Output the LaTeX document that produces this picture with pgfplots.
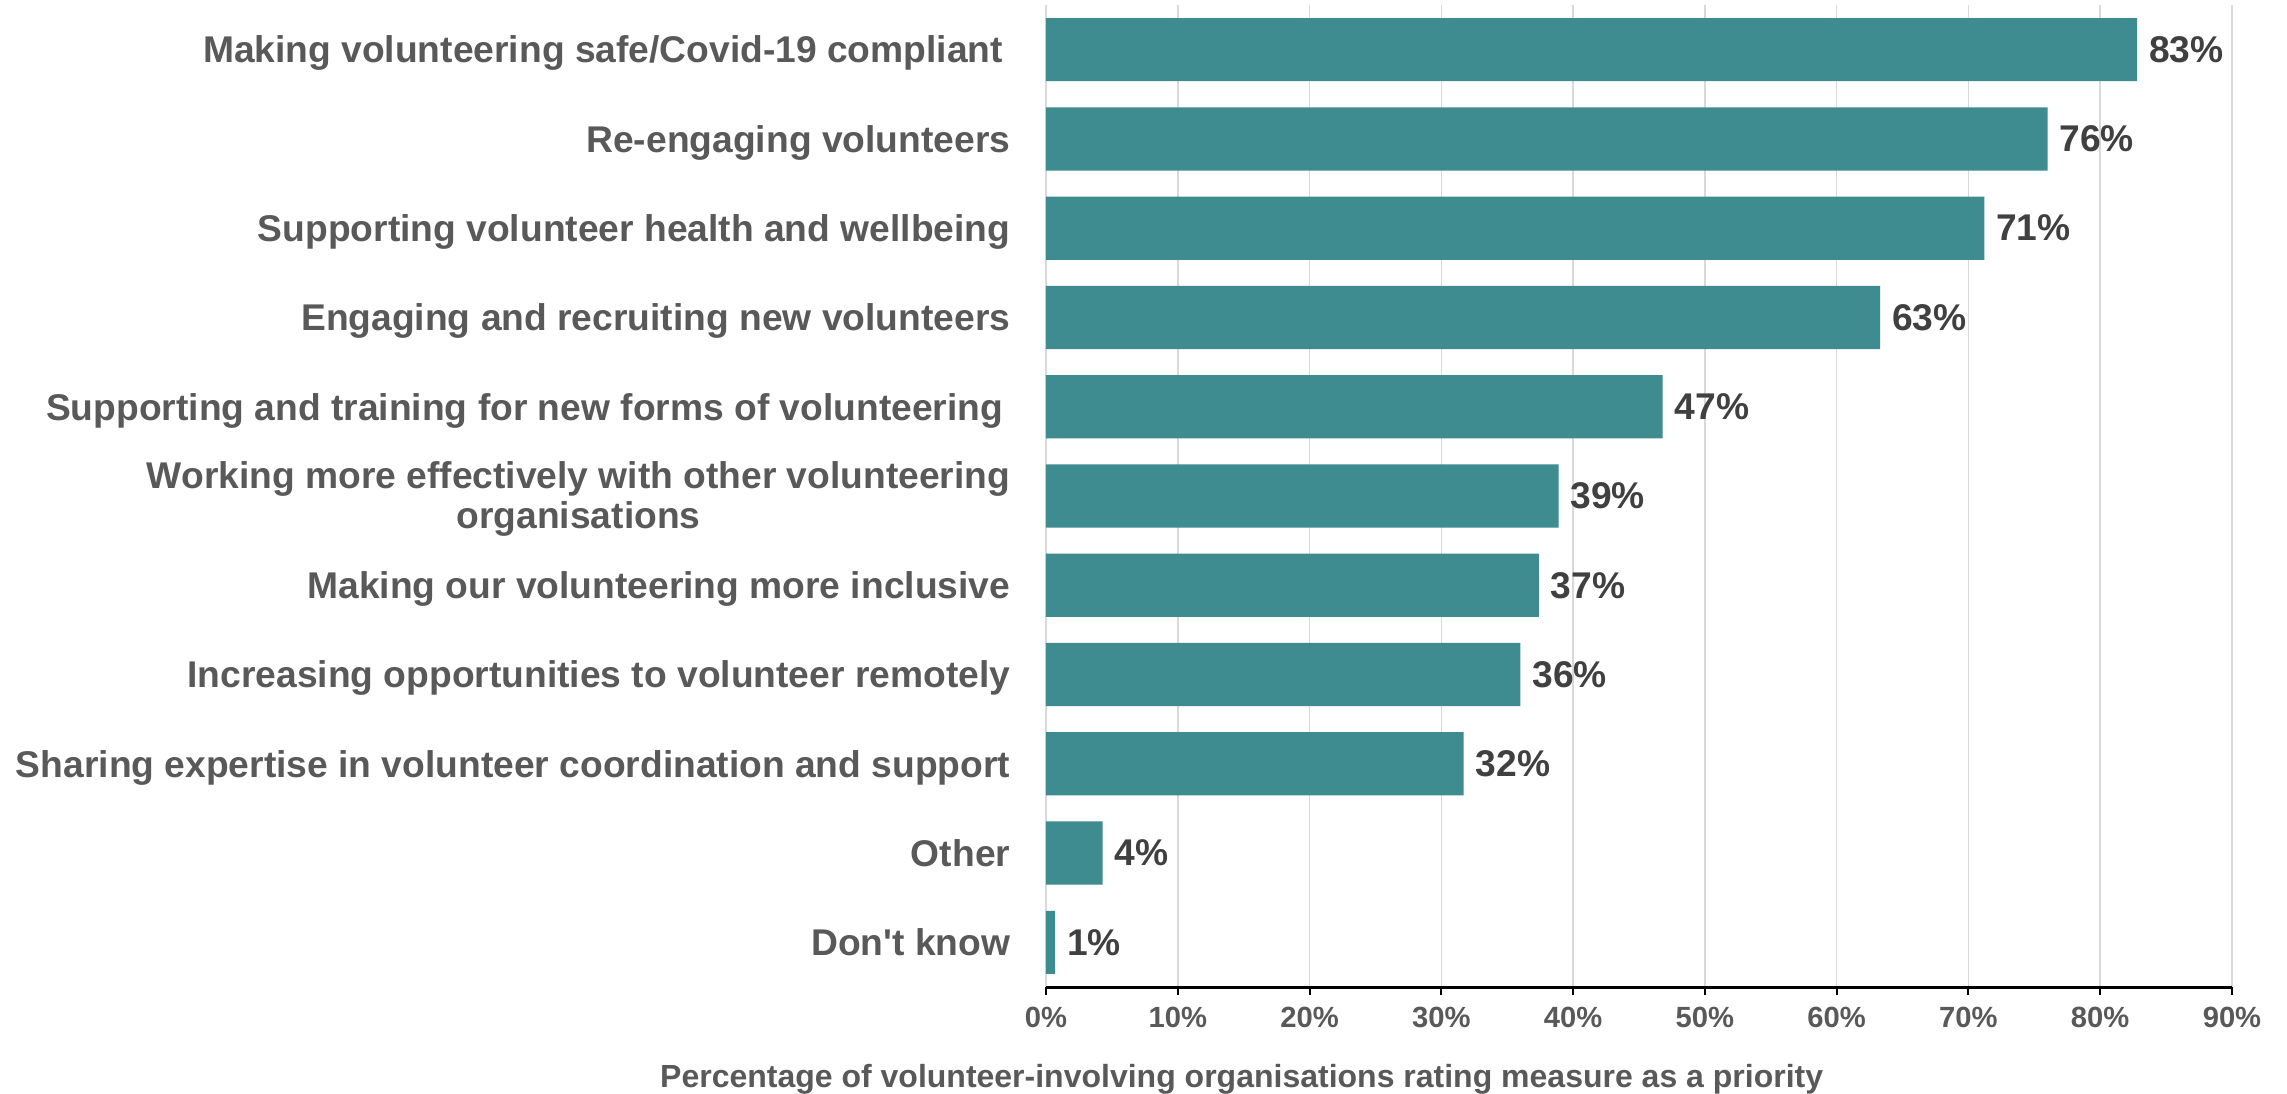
\documentclass[border=0pt]{standalone}
\usepackage{fontspec}
\setmainfont{Liberation Sans}
\usepackage{pgfplots}
\pgfplotsset{compat=1.18}
\definecolor{barteal}{HTML}{3E8B90}
\definecolor{labgray}{HTML}{595959}
\definecolor{valgray}{HTML}{404040}
\definecolor{gridgray}{HTML}{D9D9D9}

\begin{document}
\begin{tikzpicture}
\begin{axis}[
    at={(0,0)}, anchor=south west,
    scale only axis,
    width=296.5pt, height=245.5pt,
    xbar, bar width=15.8pt,
    xmin=0, xmax=90, ymin=-0.5, ymax=10.5,
    axis lines*=left,
    y axis line style={draw=none},
    x axis line style={line width=0.75pt, black},
    tick align=outside,
    xtick={0,10,...,90},
    xticklabels={0\%,10\%,20\%,30\%,40\%,50\%,60\%,70\%,80\%,90\%},
    xtick style={black, line width=0.5pt},
    major tick length=2pt,
    ytick={0,...,10},
    yticklabels={
        Don\textquotesingle t know,
        Other,
        Sharing expertise in volunteer coordination and support,
        Increasing opportunities to volunteer remotely,
        Making our volunteering more inclusive,
        {\begin{tabular}{@{}c@{}}Working more effectively with other volunteering\\organisations\end{tabular}},
        Supporting and training for new forms of volunteering\hspace*{1.8pt},
        Engaging and recruiting new volunteers,
        Supporting volunteer health and wellbeing,
        Re-engaging volunteers,
        Making volunteering safe/Covid-19 compliant\hspace*{1.8pt}
    },
    ytick style={draw=none},
    xmajorgrids,
    grid style={gridgray, line width=0.4pt},
    xticklabel style={font=\bfseries\fontsize{7.3}{8}\selectfont, text=labgray,
        anchor=north, inner sep=0pt, yshift=-2.9pt},
    yticklabel style={font=\bfseries\fontsize{9.3}{10.1}\selectfont, text=labgray,
        anchor=base east, inner sep=0pt, xshift=-6.75pt, yshift=-3.33pt},
    xlabel={Percentage of volunteer-involving organisations rating measure as a priority},
    xlabel style={at={(axis description cs:0.165,0)}, anchor=north, inner sep=0pt,
        yshift=-19.1pt, font=\bfseries\fontsize{8}{9}\selectfont, text=labgray},
    nodes near coords,
    point meta=explicit symbolic,
    nodes near coords style={font=\bfseries\fontsize{9.3}{10}\selectfont, text=valgray,
        anchor=west, inner sep=0pt, xshift=2.8pt},
]
\addplot[fill=barteal, draw=none] coordinates {
    (0.7,0) [1\%]
    (4.3,1) [4\%]
    (31.7,2) [32\%]
    (36,3) [36\%]
    (37.4,4) [37\%]
    (38.9,5) [39\%]
    (46.8,6) [47\%]
    (63.3,7) [63\%]
    (71.2,8) [71\%]
    (76,9) [76\%]
    (82.8,10) [83\%]
};
\end{axis}
\pgfresetboundingbox
\path[use as bounding box] (-261.5pt,-26.5pt) rectangle (310.25pt,246.75pt);
\end{tikzpicture}
\end{document}
